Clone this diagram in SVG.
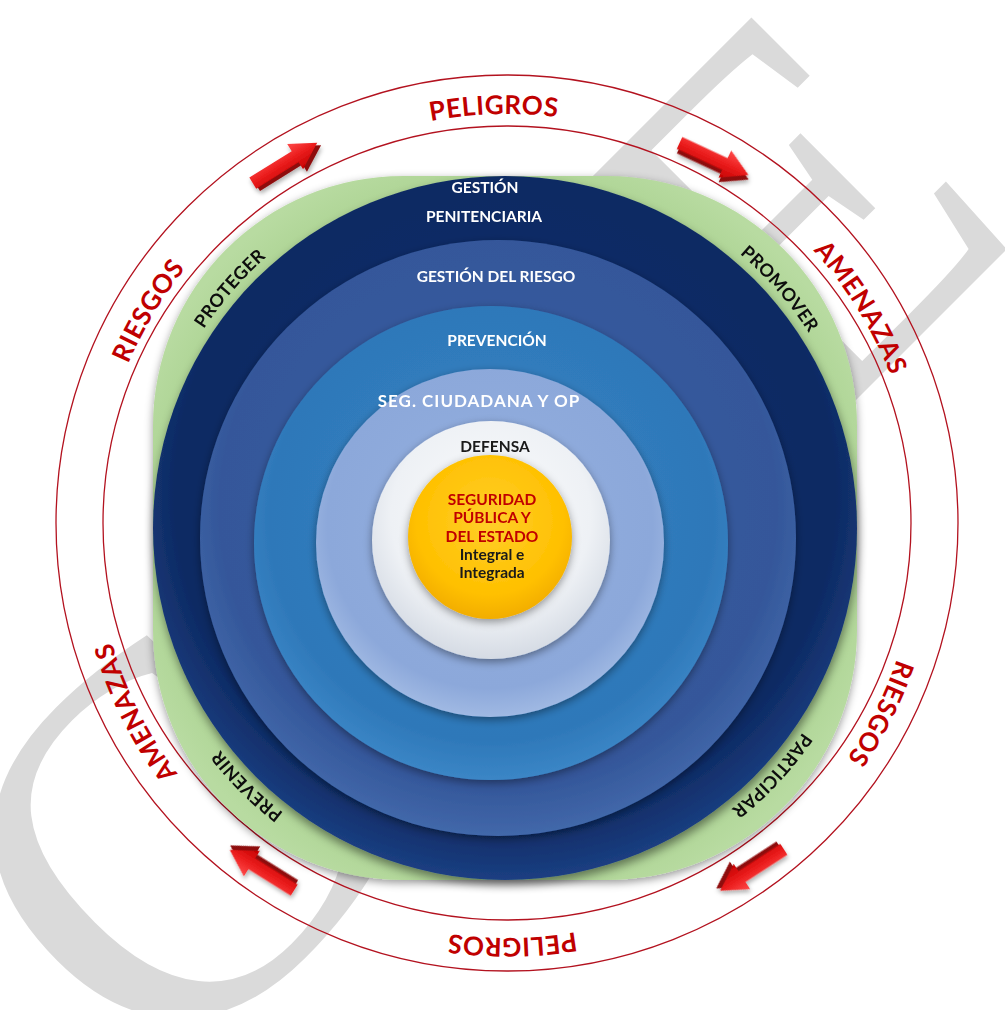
<svg xmlns="http://www.w3.org/2000/svg" width="1005" height="1010" viewBox="0 0 1005 1010">
  <defs>
    <style>
      .wm { font-family: "Liberation Serif", "Times New Roman", serif; font-size: 526px; fill: #dadada; }
      .lbl { font-family: Lato, "Open Sans", sans-serif; font-weight: 700; text-anchor: middle; }
      .ring { font-size: 15.5px; fill: #ffffff; }
      .wide { font-size: 17px; letter-spacing: 1px; }
      .dark { font-size: 15.5px; fill: #1a1a1a; }
      .red { fill: #c00000; }
      .outer { font-size: 26px; fill: #c00000; letter-spacing: 0.6px; }
      .green { font-size: 18px; fill: #0d0d0d; letter-spacing: 0.4px; }
      .band { fill: none; stroke: #b3121f; stroke-width: 1.3; }
    </style>
    <filter id="shadow" x="-20%" y="-20%" width="140%" height="140%">
      <feDropShadow dx="1" dy="5" stdDeviation="5" flood-color="#000" flood-opacity="0.45"/>
    </filter>
    <filter id="softShadow" x="-20%" y="-20%" width="140%" height="140%">
      <feDropShadow dx="0" dy="3" stdDeviation="4" flood-color="#000" flood-opacity="0.4"/>
    </filter>
    <filter id="arrowShadow" x="-30%" y="-60%" width="160%" height="220%">
      <feDropShadow dx="1" dy="3" stdDeviation="2" flood-color="#000" flood-opacity="0.3"/>
    </filter>
    <radialGradient id="gGreen" cx="50%" cy="50%" r="55%">
      <stop offset="0.8" stop-color="#a6cf8b"/>
      <stop offset="1" stop-color="#b8dba1"/>
    </radialGradient>
    <radialGradient id="gNavy" cx="50%" cy="45%" r="55%">
      <stop offset="0" stop-color="#12316d"/>
      <stop offset="0.85" stop-color="#0e2a63"/>
      <stop offset="1" stop-color="#1b3f82"/>
    </radialGradient>
    <radialGradient id="gSteel" cx="50%" cy="45%" r="55%">
      <stop offset="0" stop-color="#3b5fa2"/>
      <stop offset="0.85" stop-color="#34579a"/>
      <stop offset="1" stop-color="#4268aa"/>
    </radialGradient>
    <radialGradient id="gMid" cx="50%" cy="45%" r="55%">
      <stop offset="0" stop-color="#3583c4"/>
      <stop offset="0.85" stop-color="#2e78b9"/>
      <stop offset="1" stop-color="#3b86c6"/>
    </radialGradient>
    <radialGradient id="gLight" cx="50%" cy="45%" r="55%">
      <stop offset="0" stop-color="#93afdf"/>
      <stop offset="0.85" stop-color="#8ca8da"/>
      <stop offset="1" stop-color="#a0b9e3"/>
    </radialGradient>
    <radialGradient id="gWhite" cx="50%" cy="40%" r="60%">
      <stop offset="0" stop-color="#fafbfc"/>
      <stop offset="0.7" stop-color="#eef1f5"/>
      <stop offset="1" stop-color="#d5dbe4"/>
    </radialGradient>
    <radialGradient id="gYellow" cx="50%" cy="40%" r="60%">
      <stop offset="0" stop-color="#ffcf2a"/>
      <stop offset="0.75" stop-color="#ffc000"/>
      <stop offset="1" stop-color="#f2ad00"/>
    </radialGradient>
    <linearGradient id="gArrow" x1="0" y1="0" x2="0" y2="1">
      <stop offset="0" stop-color="#ff4a4a"/>
      <stop offset="0.5" stop-color="#ea1c1c"/>
      <stop offset="1" stop-color="#c40000"/>
    </linearGradient>
    <!-- 3D block arrow pointing along +x, centred on the origin -->
    <g id="arrow">
      <path d="M -38,-6.5 L 12,-6.5 L 12,-15 L 38,0 L 12,15 L 12,6.5 L -38,6.5 Z" transform="translate(2,4)" fill="#8e0a0a"/>
      <path d="M -38,-6.5 L 12,-6.5 L 12,-15 L 38,0 L 12,15 L 12,6.5 L -38,6.5 Z" fill="url(#gArrow)"/>
    </g>
    <!-- clockwise circles used as baselines for the curved labels (start at 3 o'clock) -->
    <path id="outerPath" d="M 919,526 A 412,412 0 1 1 95,526 A 412,412 0 1 1 919,526"/>
    <path id="greenPath" d="M 866,528 A 361,361 0 1 1 144,528 A 361,361 0 1 1 866,528"/>
  </defs>

  <rect width="1005" height="1010" fill="#ffffff"/>

  <!-- background watermark -->
  <g id="watermark">
    <text class="wm" transform="translate(161,1095) rotate(-45)" x="0" y="0">CIDE</text>
  </g>

  <!-- outer band of hazards -->
  <g id="band">
    <ellipse class="band" cx="507" cy="523" rx="451" ry="448"/>
    <ellipse class="band" cx="507" cy="523" rx="404" ry="397"/>
  </g>

  <g id="outer-labels" class="lbl outer">
    <text><textPath href="#outerPath" startOffset="74.5%">PELIGROS</textPath></text>
    <text><textPath href="#outerPath" startOffset="91.2%">AMENAZAS</textPath></text>
    <text><textPath href="#outerPath" startOffset="7.4%">RIESGOS</textPath></text>
    <text><textPath href="#outerPath" startOffset="24.8%">PELIGROS</textPath></text>
    <text><textPath href="#outerPath" startOffset="42.6%">AMENAZAS</textPath></text>
    <text><textPath href="#outerPath" startOffset="58.6%">RIESGOS</textPath></text>
  </g>

  <!-- clockwise flow arrows -->
  <g id="connectors" filter="url(#arrowShadow)">
    <use href="#arrow" transform="translate(285,163) rotate(-32)"/>
    <use href="#arrow" transform="translate(714,159) rotate(25)"/>
    <use href="#arrow" transform="translate(752,870) rotate(147)"/>
    <use href="#arrow" transform="translate(262,870) rotate(212)"/>
  </g>

  <!-- green action petals -->
  <g id="acciones">
    <rect x="153" y="176" width="704" height="704" rx="250" ry="250" fill="url(#gGreen)" filter="url(#softShadow)"/>
    <g class="lbl green">
      <text><textPath href="#greenPath" startOffset="61.4%">PROTEGER</textPath></text>
      <text><textPath href="#greenPath" startOffset="88.6%">PROMOVER</textPath></text>
      <text><textPath href="#greenPath" startOffset="11.9%">PARTICIPAR</textPath></text>
      <text><textPath href="#greenPath" startOffset="37.5%">PREVENIR</textPath></text>
    </g>
  </g>

  <g id="gestion-penitenciaria">
    <circle cx="505" cy="528" r="352" fill="url(#gNavy)" filter="url(#shadow)"/>
    <text class="lbl ring" x="485" y="193">GESTIÓN</text>
    <text class="lbl ring" x="484" y="222">PENITENCIARIA</text>
  </g>

  <g id="gestion-riesgo">
    <circle cx="498" cy="538" r="298" fill="url(#gSteel)" filter="url(#softShadow)"/>
    <text class="lbl ring" x="496" y="282">GESTIÓN DEL RIESGO</text>
  </g>

  <g id="prevencion">
    <circle cx="491" cy="543" r="237" fill="url(#gMid)" filter="url(#softShadow)"/>
    <text class="lbl ring" x="497" y="346">PREVENCIÓN</text>
  </g>

  <g id="seguridad-ciudadana">
    <circle cx="490" cy="543" r="174" fill="url(#gLight)" filter="url(#softShadow)"/>
    <text class="lbl ring wide" x="479" y="407" fill="#eef2f9">SEG. CIUDADANA Y OP</text>
  </g>

  <g id="defensa">
    <circle cx="491" cy="540" r="119" fill="url(#gWhite)" filter="url(#softShadow)"/>
    <text class="lbl dark" x="495" y="452">DEFENSA</text>
  </g>

  <g id="seguridad-publica">
    <circle cx="490" cy="537" r="82" fill="url(#gYellow)" filter="url(#softShadow)"/>
    <g class="lbl dark">
      <text class="red" x="492" y="505">SEGURIDAD</text>
      <text class="red" x="492" y="523">PÚBLICA Y</text>
      <text class="red" x="492" y="542">DEL ESTADO</text>
      <text x="492" y="560">Integral e</text>
      <text x="492" y="578">Integrada</text>
    </g>
  </g>
</svg>
